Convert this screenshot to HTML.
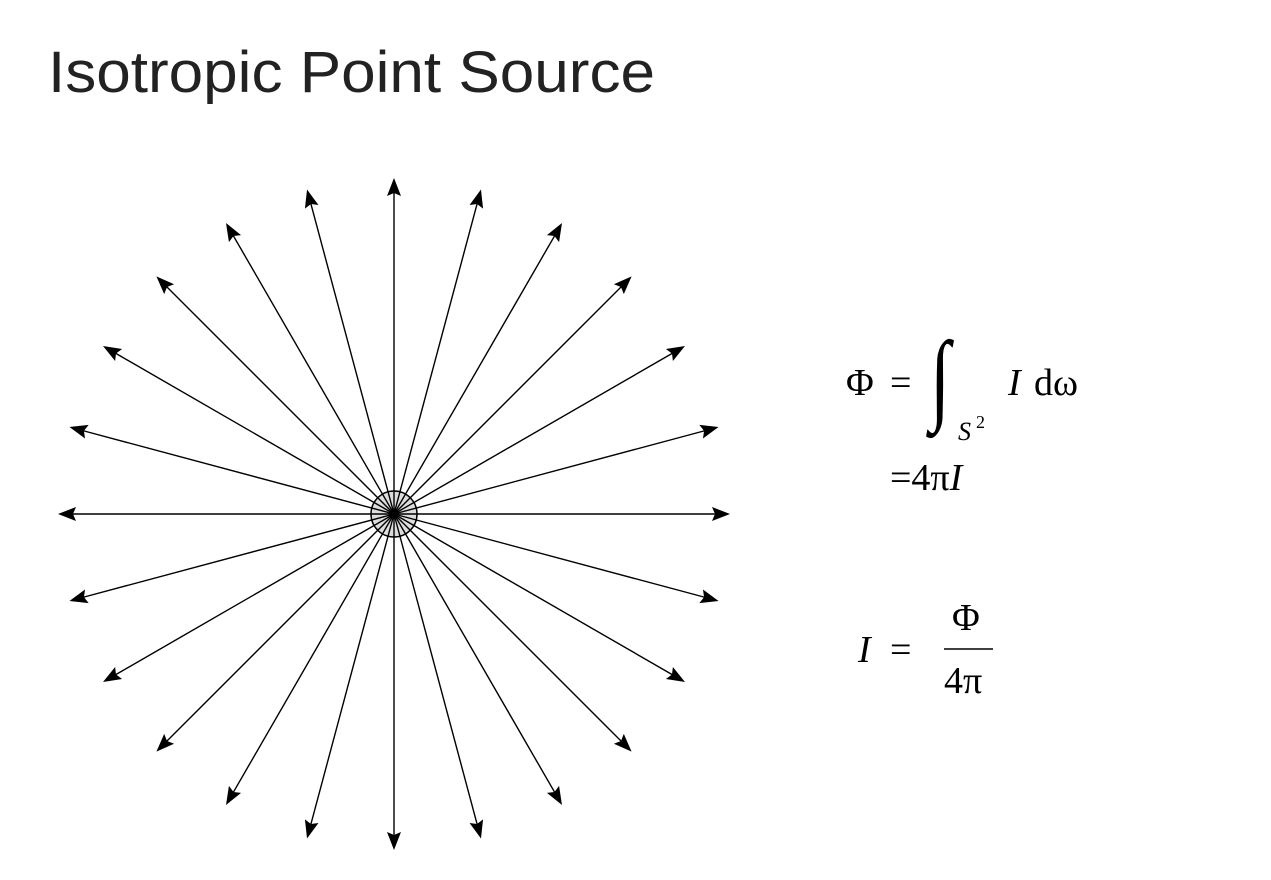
<!DOCTYPE html>
<html><head><meta charset="utf-8"><style>
body{margin:0;width:1271px;height:880px;background:#fff;overflow:hidden}
svg{position:absolute;left:0;top:0}
</style></head><body>
<svg width="1271" height="880" xmlns="http://www.w3.org/2000/svg">
<text x="48" y="92" font-family="Liberation Sans, sans-serif" font-size="58" textLength="607" lengthAdjust="spacingAndGlyphs" fill="#222">Isotropic Point Source</text>
<circle cx="394" cy="514" r="23" fill="#ddd" stroke="#000" stroke-width="1.5"/>
<g id="rays" stroke="#000" stroke-width="1.4" fill="#000"></g>
<g font-family="Liberation Serif, serif" font-size="38" fill="#000">
<text x="846" y="395">Φ</text>
<text x="890" y="395">=</text>
<text transform="translate(930,411) scale(0.8,1.1)" font-size="92" font-style="italic">∫</text>
<text x="958" y="440" font-size="26" font-style="italic">S</text>
<text x="976" y="428" font-size="18">2</text>
<text x="1008" y="395" font-style="italic">I</text>
<text x="1034" y="395">dω</text>
<text x="890" y="490">=4π<tspan font-style="italic">I</tspan></text>
<text x="858" y="662" font-style="italic">I</text>
<text x="890" y="662">=</text>
<text x="952" y="630">Φ</text>
<line x1="944" y1="649" x2="993" y2="649" stroke="#000" stroke-width="1.5"/>
<text x="944" y="693">4π</text>
</g>
</svg>
<script>
var g=document.getElementById('rays'),cx=394,cy=514,L=336,s='';
for(var i=0;i<24;i++){var a=i*Math.PI/12,dx=Math.cos(a),dy=-Math.sin(a);
var tx=cx+dx*L,ty=cy+dy*L,bx=tx-dx*18,by=ty-dy*18,px=-dy,py=dx;
s+='<line x1="'+cx+'" y1="'+cy+'" x2="'+(tx-dx*10)+'" y2="'+(ty-dy*10)+'"/>';
s+='<polygon stroke="none" points="'+tx+','+ty+' '+(bx+px*7)+','+(by+py*7)+' '+(tx-dx*15)+','+(ty-dy*15)+' '+(bx-px*7)+','+(by-py*7)+'"/>';}
g.innerHTML=s;
</script>
</body></html>
